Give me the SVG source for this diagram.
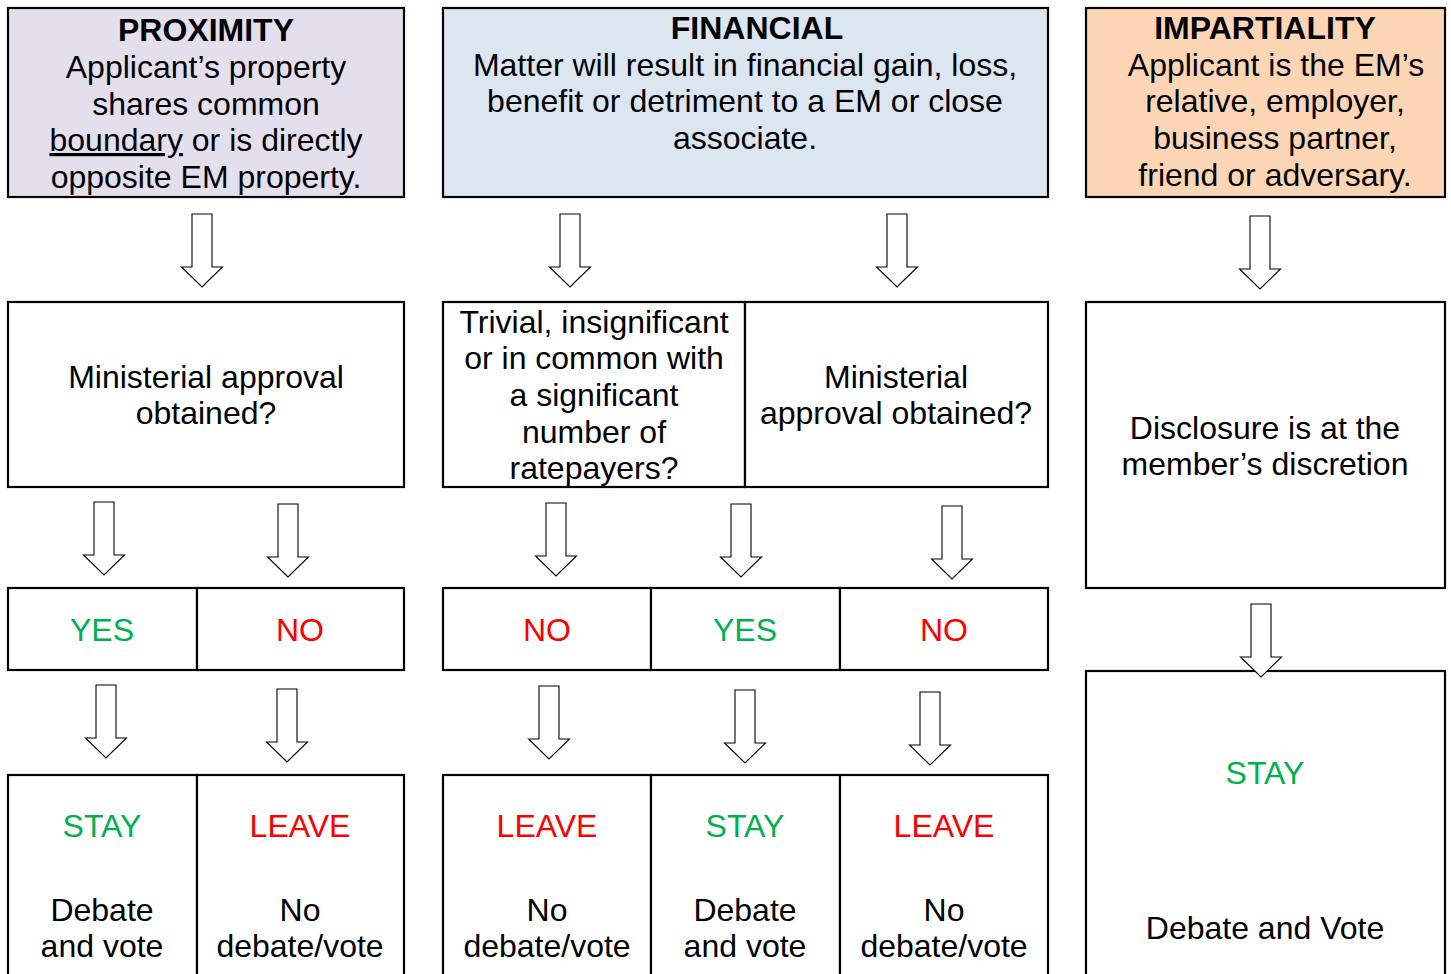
<svg xmlns="http://www.w3.org/2000/svg" xmlns:xlink="http://www.w3.org/1999/xlink" width="1451" height="974" viewBox="0 0 1451 974">
<style>
.box{stroke:#000;stroke-width:2.2;fill:#fff}
.div{stroke:#000;stroke-width:2.2}
text{font-family:"Liberation Sans",Arial,sans-serif;font-size:32px;text-anchor:middle;fill:#000}
.b{font-weight:bold}
.g{fill:#00B050}
.r{fill:#FF0000}
.arrow{fill:#fff;stroke:#000;stroke-width:1.1;stroke-linejoin:miter}
</style>
<defs>
<path id="arr" d="M-10,0 H10 V53 H20.5 L0,73 L-20.5,53 H-10 Z"/>
</defs>
<rect width="1451" height="974" fill="#fff"/>

<g id="proximity-head">
<rect class="box" x="8" y="8" width="396" height="189" style="fill:#E4DFEC"/>
<text class="b" x="206" y="41">PROXIMITY</text>
<text x="206" y="78">Applicant’s property</text>
<text x="206" y="115">shares common</text>
<text x="206" y="151"><tspan text-decoration="underline">boundary</tspan> or is directly</text>
<text x="206" y="188">opposite EM property.</text>
</g>

<g id="financial-head">
<rect class="box" x="443" y="8" width="605" height="189" style="fill:#DCE6F1"/>
<text class="b" x="757" y="39">FINANCIAL</text>
<text x="745" y="76">Matter will result in financial gain, loss,</text>
<text x="745" y="112">benefit or detriment to a EM or close</text>
<text x="745" y="149">associate.</text>
</g>

<g id="impartiality-head">
<rect class="box" x="1086" y="8" width="359" height="189" style="fill:#FCD5B4"/>
<text class="b" x="1265" y="39">IMPARTIALITY</text>
<text x="1276" y="76">Applicant is the EM’s</text>
<text x="1275" y="112">relative, employer,</text>
<text x="1275" y="149">business partner,</text>
<text x="1275" y="186">friend or adversary.</text>
</g>

<g id="proximity-question">
<rect class="box" x="8" y="302" width="396" height="185"/>
<text x="206" y="388">Ministerial approval</text>
<text x="206" y="424">obtained?</text>
</g>

<g id="financial-trivial">
<rect class="box" x="443" y="302" width="302" height="185"/>
<text x="594" y="333">Trivial, insignificant</text>
<text x="594" y="369">or in common with</text>
<text x="594" y="406">a significant</text>
<text x="594" y="443">number of</text>
<text x="594" y="479">ratepayers?</text>
</g>

<g id="financial-question">
<rect class="box" x="745" y="302" width="303" height="185"/>
<text x="896" y="388">Ministerial</text>
<text x="896" y="424">approval obtained?</text>
</g>

<g id="impartiality-disclosure">
<rect class="box" x="1086" y="302" width="359" height="286"/>
<text x="1265" y="439">Disclosure is at the</text>
<text x="1265" y="475">member’s discretion</text>
</g>

<g id="prox-yes">
<rect class="box" x="8" y="588" width="189" height="82"/>
<text class="g" x="102" y="641">YES</text>
</g>
<g id="prox-no">
<rect class="box" x="197" y="588" width="207" height="82"/>
<text class="r" x="300" y="641">NO</text>
</g>
<g id="fin-no1">
<rect class="box" x="443" y="588" width="208" height="82"/>
<text class="r" x="547" y="641">NO</text>
</g>
<g id="fin-yes">
<rect class="box" x="651" y="588" width="189" height="82"/>
<text class="g" x="745" y="641">YES</text>
</g>
<g id="fin-no2">
<rect class="box" x="840" y="588" width="208" height="82"/>
<text class="r" x="944" y="641">NO</text>
</g>

<g id="prox-stay">
<rect class="box" x="8" y="775" width="189" height="210"/>
<text class="g" x="102" y="837">STAY</text>
<text x="102" y="921">Debate</text>
<text x="102" y="957">and vote</text>
</g>
<g id="prox-leave">
<rect class="box" x="197" y="775" width="207" height="210"/>
<text class="r" x="300" y="837">LEAVE</text>
<text x="300" y="921">No</text>
<text x="300" y="957">debate/vote</text>
</g>
<g id="fin-leave1">
<rect class="box" x="443" y="775" width="208" height="210"/>
<text class="r" x="547" y="837">LEAVE</text>
<text x="547" y="921">No</text>
<text x="547" y="957">debate/vote</text>
</g>
<g id="fin-stay">
<rect class="box" x="651" y="775" width="189" height="210"/>
<text class="g" x="745" y="837">STAY</text>
<text x="745" y="921">Debate</text>
<text x="745" y="957">and vote</text>
</g>
<g id="fin-leave2">
<rect class="box" x="840" y="775" width="208" height="210"/>
<text class="r" x="944" y="837">LEAVE</text>
<text x="944" y="921">No</text>
<text x="944" y="957">debate/vote</text>
</g>

<g id="imp-stay">
<rect class="box" x="1086" y="671" width="359" height="314"/>
<text class="g" x="1265" y="784">STAY</text>
<text x="1265" y="939">Debate and Vote</text>
</g>

<g id="connectors">
<use xlink:href="#arr" class="arrow" transform="translate(202,214)"/>
<use xlink:href="#arr" class="arrow" transform="translate(570,214)"/>
<use xlink:href="#arr" class="arrow" transform="translate(897,214)"/>
<use xlink:href="#arr" class="arrow" transform="translate(1260,216)"/>
<use xlink:href="#arr" class="arrow" transform="translate(104,502)"/>
<use xlink:href="#arr" class="arrow" transform="translate(288,504)"/>
<use xlink:href="#arr" class="arrow" transform="translate(556,503)"/>
<use xlink:href="#arr" class="arrow" transform="translate(741,504)"/>
<use xlink:href="#arr" class="arrow" transform="translate(952,506)"/>
<use xlink:href="#arr" class="arrow" transform="translate(1261,604)"/>
<use xlink:href="#arr" class="arrow" transform="translate(106,685)"/>
<use xlink:href="#arr" class="arrow" transform="translate(287,689)"/>
<use xlink:href="#arr" class="arrow" transform="translate(549,686)"/>
<use xlink:href="#arr" class="arrow" transform="translate(745,690)"/>
<use xlink:href="#arr" class="arrow" transform="translate(930,692)"/>
</g>
</svg>
